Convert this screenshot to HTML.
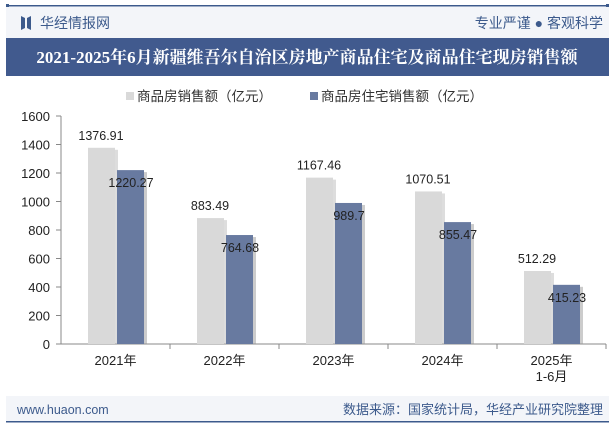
<!DOCTYPE html>
<html><head><meta charset="utf-8"><style>
body{margin:0;width:615px;height:427px;background:#fff;overflow:hidden;font-family:"Liberation Sans","Noto Sans CJK SC",sans-serif}
</style></head><body>
<svg width="615" height="427" xmlns="http://www.w3.org/2000/svg">
<rect x="6" y="5" width="603" height="1.5" fill="#3c5a8c"/>
<rect x="6" y="4" width="3" height="3" fill="#3c5a8c"/><rect x="606" y="4" width="3" height="3" fill="#3c5a8c"/>
<rect x="6" y="7" width="603" height="31" fill="#f3f5f9"/>
<path d="M21 16 L25 18 L25 28 L21 30 Z M31 16 L27 18 L27 28 L31 30 Z" fill="#3c5a8c"/>
<text x="40" y="28" font-size="14" fill="#3c5a8c">华经情报网</text>
<text x="603" y="28" font-size="14" fill="#3c5a8c" text-anchor="end">专业严谨 ● 客观科学</text>
<rect x="6" y="38" width="603" height="38" fill="#415a8e"/>
<text x="307" y="63" font-size="17" font-weight="bold" fill="#fff" text-anchor="middle" font-family="'Liberation Serif','Noto Serif CJK SC',serif">2021-2025年6月新疆维吾尔自治区房地产商品住宅及商品住宅现房销售额</text>
<rect x="126" y="92" width="8" height="8" fill="#d9d9d9"/>
<text x="137" y="101" font-size="13.5" fill="#333">商品房销售额（亿元）</text>
<rect x="310" y="92" width="8" height="8" fill="#687aa0"/>
<text x="321" y="101" font-size="13.5" fill="#333">商品房住宅销售额（亿元）</text>
<g id="plot"></g>
<rect x="6" y="396" width="603" height="26" fill="#f3f5f9"/>
<text x="17" y="414" font-size="12.5" fill="#3c5a8c">www.huaon.com</text>
<text x="603" y="414" font-size="13" fill="#3c5a8c" text-anchor="end">数据来源：国家统计局，华经产业研究院整理</text>
<rect x="6" y="421" width="603" height="1.5" fill="#3c5a8c"/>
</svg>
<script>
const categories=["2021年","2022年","2023年","2024年","2025年"];
const totalSales=[1376.91,883.49,1167.46,1070.51,512.29];
const residentialSales=[1220.27,764.68,989.7,855.47,415.23];
const yTicks=[0,200,400,600,800,1000,1200,1400,1600];
const NS="http://www.w3.org/2000/svg";
const g=document.getElementById('plot');
const x0=61,band=109,yBase=344,yTop=116,yMax=1600;
const y=v=>yBase-(yBase-yTop)*v/yMax;
function mk(t,a,txt){const e=document.createElementNS(NS,t);for(const k in a)e.setAttribute(k,a[k]);if(txt!==undefined)e.textContent=txt;g.appendChild(e);return e;}
yTicks.forEach(t=>{const e=mk('text',{x:x0-11,y:y(t)+5,'font-size':13,fill:'#222','text-anchor':'end'},t);


const l=mk('line',{x1:x0-5,x2:x0,y1:y(t),y2:y(t),stroke:'#888'});

});
const ax=mk('line',{x1:x0,x2:x0,y1:yTop,y2:yBase,stroke:'#888'});


const bx=mk('line',{x1:x0,x2:x0+band*categories.length,y1:yBase,y2:yBase,stroke:'#888'});


categories.forEach((c,i)=>{const bx0=x0+i*band;
const tk=mk('line',{x1:bx0+band,x2:bx0+band,y1:yBase,y2:yBase+5,stroke:'#888'});


const cl=mk('text',{x:bx0+band/2,y:yBase+21,'font-size':13,fill:'#222','text-anchor':'middle'},c);


if(i===categories.length-1){const s=mk('text',{x:bx0+band/2,y:yBase+37,'font-size':13,fill:'#222','text-anchor':'middle'},'1-6月');

}
const v1=totalSales[i],v2=residentialSales[i];
mk('rect',{x:bx0+30,y:y(v1)+2,width:27,height:yBase-y(v1)-2,fill:'#bbb',opacity:0.5});
const r1=mk('rect',{x:bx0+27,y:y(v1),width:27,height:yBase-y(v1),fill:'#d9d9d9'});


mk('rect',{x:bx0+59,y:y(v2)+2,width:27,height:yBase-y(v2)-2,fill:'#999',opacity:0.5});
const r2=mk('rect',{x:bx0+56,y:y(v2),width:27,height:yBase-y(v2),fill:'#687aa0'});


const l1=mk('text',{x:bx0+40,y:y(v1)-8,'font-size':12.5,fill:'#222','text-anchor':'middle'},v1);


const l2=mk('text',{x:bx0+70,y:y(v2)+17,'font-size':12.5,fill:'#222','text-anchor':'middle'},v2);

});
</script>
</body></html>
